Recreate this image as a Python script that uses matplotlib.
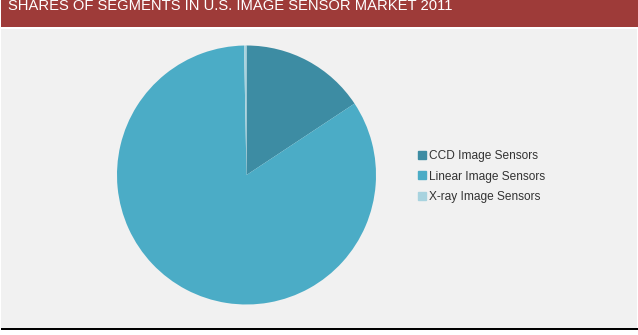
import matplotlib.pyplot as plt
from matplotlib.patches import Rectangle
from matplotlib.lines import Line2D

W, H = 638, 335

# Data
segments = ["CCD Image Sensors", "Linear Image Sensors", "X-ray Image Sensors"]
shares = [15.7, 84.0, 0.3]
colors = ["#3d8ca3", "#4bacc6", "#a8d3df"]
title = "SHARES OF SEGMENTS IN U.S. IMAGE SENSOR MARKET 2011"

plt.rcParams['font.family'] = ['Liberation Sans', 'DejaVu Sans']

fig = plt.figure(figsize=(W / 100, H / 100), dpi=100)
fig.patch.set_facecolor("white")


def px_rect(x0, y0, x1, y1, color):
    # rectangle in pixel coords (y from top)
    fig.patches.append(Rectangle((x0 / W, 1 - y1 / H), (x1 - x0) / W, (y1 - y0) / H,
                                 transform=fig.transFigure, facecolor=color,
                                 edgecolor="none", zorder=-5))


# Header band, background panel, bottom rule
px_rect(1, 0, 638, 27, "#9e3b39")
px_rect(1, 29, 637, 328, "#f1f1f1")
px_rect(1, 328, 638, 330, "#000000")

fig.text(8 / W, 1 - 10 / H, title, color="white", fontsize=10.6,
         va="baseline", ha="left")

# Pie
cx, cy, r = 246.5, 175, 129.5
ax = fig.add_axes([(cx - r) / W, 1 - (cy + r) / H, 2 * r / W, 2 * r / H])
ax.pie(shares, colors=colors, startangle=90, counterclock=False, radius=1,
       wedgeprops=dict(linewidth=0))
ax.set_xlim(-1, 1)
ax.set_ylim(-1, 1)
ax.axis("off")

# Legend
handles = [Line2D([], [], marker="s", linestyle="", color=c, markersize=5.5) for c in colors]
fig.legend(handles, segments, loc="center left", frameon=False,
           bbox_to_anchor=(405 / W, 1 - 176.5 / H), fontsize=8.6,
           handletextpad=0.1, handlelength=1.0, labelspacing=0.7,
           labelcolor="#333333")

fig.savefig("out.png", dpi=100, facecolor=fig.get_facecolor())
